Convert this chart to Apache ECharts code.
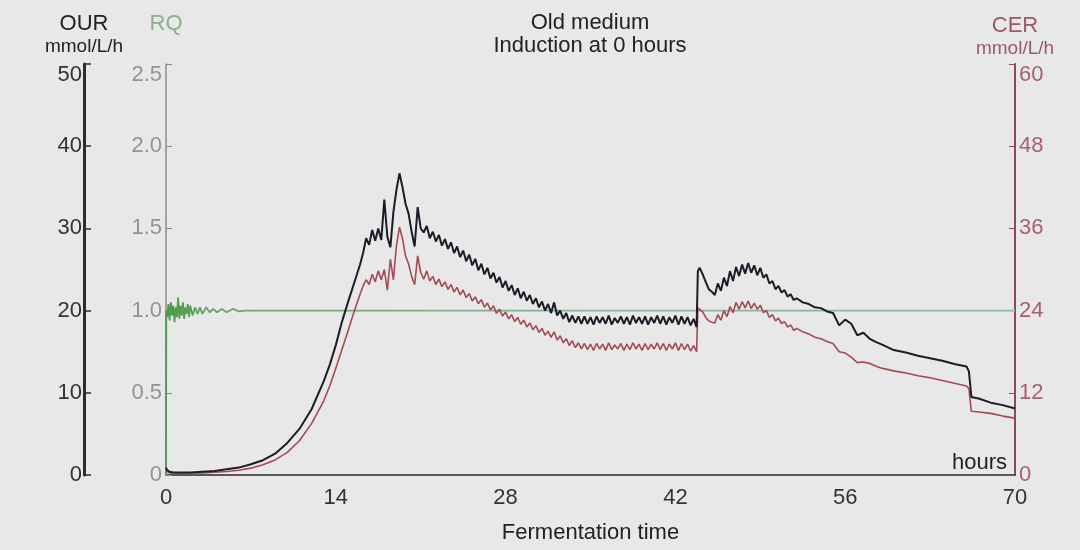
<!DOCTYPE html>
<html><head><meta charset="utf-8">
<script src="https://cdn.jsdelivr.net/npm/echarts@6/dist/echarts.min.js"></script>
<style>html,body{margin:0;padding:0;background:#e8e8e8}#c{width:1080px;height:550px}</style>
</head><body><div id="c"></div>
<script>
// ---- data (hours, OUR mmol/L/h, CER mmol/L/h, RQ) ----
const hoursRise = [0, 0.1, 0.3, 0.6, 1, 2, 3, 4, 5, 6, 7, 8, 9, 10, 11, 12, 13, 13.5, 14, 14.5, 15, 15.5, 16];
const ourRise   = [0.9, 0.6, 0.4, 0.3, 0.3, 0.3, 0.4, 0.5, 0.7, 0.9, 1.3, 1.8, 2.6, 3.9, 5.6, 8.0, 11.4, 13.4, 15.8, 18.6, 21.0, 23.3, 25.6];
const cerRise   = [0.6, 0.4, 0.3, 0.3, 0.3, 0.3, 0.3, 0.4, 0.5, 0.7, 1.0, 1.5, 2.2, 3.3, 5.0, 7.5, 10.8, 13.0, 15.6, 18.3, 21.0, 23.8, 26.4];

const hoursPeak = [16.25,16.5,16.75,17, 17.25,17.5,17.75,18, 18.25,18.5,18.75,19, 19.25,19.5,19.75,20,
  20.25,20.5,20.75,21, 21.25,21.5,21.75,22, 22.25,22.5,22.75,23, 23.25,23.5,23.75,24,
  24.25,24.5,24.75,25, 25.25,25.5,25.75,26, 26.25,26.5,26.75,27, 27.25,27.5,27.75,28,
  28.25,28.5,28.75,29, 29.25,29.5,29.75,30, 30.25,30.5,30.75,31, 31.25,31.5,31.75,32,
  32.25,32.5,32.75,33, 33.25,33.5,33.75];
const ourPeak = [27.0,28.8,28.0,29.8, 28.5,30.0,28.6,33.5, 29.0,27.7,32.0,34.7, 36.7,35.0,33.0,31.8,
  29.6,27.8,32.6,30.0, 29.5,30.3,28.8,29.6, 28.4,29.2,27.9,28.7, 27.5,28.3,27.0,27.8,
  26.5,27.3,26.0,26.8, 25.5,26.3,24.9,25.7, 24.4,25.2,23.9,24.6, 23.4,24.1,22.8,23.6,
  22.4,23.1,21.9,22.7, 21.5,22.3,21.2,21.9, 20.8,21.5,20.4,21.1, 20.0,20.8,19.7,21.0,
  19.4,20.0,19.0,19.7, 18.6,19.4,18.5];
const cerPeak = [27.6,28.5,27.8,29.3, 28.2,29.8,28.5,30.0, 27.0,31.5,28.5,33.5, 36.2,34.5,32.0,30.8,
  29.0,27.8,32.0,29.6, 28.6,29.8,28.3,29.0, 27.8,28.6,27.5,28.2, 27.1,27.8,26.7,27.4,
  26.3,27.0,25.9,26.5, 25.4,26.0,25.0,25.6, 24.5,25.1,24.1,24.7, 23.6,24.2,23.2,23.8,
  22.8,23.4,22.4,23.0, 22.0,22.6,21.6,22.2, 21.2,21.8,20.8,21.4, 20.4,21.0,20.1,20.9,
  19.7,20.3,19.3,19.9, 18.9,19.6,18.6];

const hoursPlateau = [34,34.25,34.5,34.75, 35,35.25,35.5,35.75, 36,36.25,36.5,36.75, 37,37.25,37.5,37.75,
  38,38.25,38.5,38.75, 39,39.25,39.5,39.75, 40,40.25,40.5,40.75, 41,41.25,41.5,41.75,
  42,42.25,42.5,42.75, 43,43.25,43.5,43.75];
const ourPlateau = [19.3,18.4,19.3,18.4, 19.2,18.3,19.3,18.5, 19.2,18.4,19.4,18.3, 19.1,18.5,19.3,18.4,
  19.2,18.3,19.4,18.5, 19.2,18.4,19.3,18.3, 19.2,18.5,19.4,18.4, 19.3,18.3,19.2,18.5,
  19.4,18.3,19.3,18.4, 19.2,18.2,19.0,18.0];
const cerPlateau = [19.3,18.4,19.2,18.3, 19.1,18.2,19.2,18.4, 19.1,18.2,19.3,18.3, 19.0,18.4,19.2,18.2,
  19.1,18.3,19.3,18.4, 19.1,18.2,19.2,18.3, 19.1,18.4,19.3,18.3, 19.2,18.2,19.1,18.4,
  19.3,18.2,19.2,18.3, 19.1,18.1,18.9,18.0];

const hoursHump = [43.85, 44,44.25,44.5,44.75, 45,45.25,45.5,45.75, 46,46.25,46.5,46.75, 47,47.25,47.5,47.75,
  48,48.25,48.5,48.75, 49,49.25,49.5,49.75, 50,50.25,50.5,50.75, 51,51.25,51.5,51.75, 52];
const ourHump = [24.8, 25.2,24.4,23.5,22.6, 22.3,21.9,23.3,22.4, 24.0,23.0,24.8,23.6, 25.3,24.2,25.6,24.5,
  25.8,24.6,25.5,24.3, 25.2,24.0,24.4,23.3, 23.6,22.6,23.0,22.2, 22.5,21.7,22.0,21.3, 21.5];
const cerHump = [24.4, 24.6,23.8,23.0,22.5, 22.3,22.2,23.4,22.6, 24.0,23.1,24.6,23.7, 25.2,24.2,25.3,24.4,
  25.4,24.3,25.1,24.2, 24.8,23.7,24.0,23.0, 23.4,22.5,22.9,22.1, 22.4,21.6,21.9,21.1, 21.4];

const hoursTail = [52.5,53,53.5,54,54.5,55,55.5,56,56.5,57,57.5,58,58.5,59,60,61,62,63,64,65,66,66.2,66.4,67,68,69,70];
const ourTail = [21.0,20.8,20.4,20.3,19.9,19.7,18.2,18.9,18.4,17.0,17.3,16.6,16.2,15.9,15.2,14.9,14.5,14.2,13.9,13.5,13.2,12.6,9.5,9.3,8.8,8.5,8.1];
const cerTail = [20.9,20.6,20.1,19.9,19.5,19.2,18.0,17.8,17.2,16.4,16.5,16.3,15.9,15.6,15.2,14.9,14.5,14.2,13.8,13.4,13.0,12.6,9.3,9.2,9.0,8.6,8.3];

const rqHours = [0,0.02,0.1,0.2,0.3,0.4,0.5,0.6,0.7,0.8,0.9,1.0,1.1,1.2,1.3,1.4,1.5,1.6,1.7,1.8,1.9,2.0,2.2,2.4,2.6,2.8,3.0,3.3,3.6,3.9,4.2,4.6,5.0,5.5,6.0,6.5,70];
const rq      = [0,1.0,0.96,1.04,0.94,1.05,0.97,1.03,0.93,1.02,0.96,1.08,0.95,1.03,0.97,1.05,0.95,1.02,0.98,1.04,0.96,1.03,0.97,1.02,0.98,1.02,0.98,1.02,0.99,1.01,0.99,1.01,0.99,1.01,0.995,1.0,1.0];

const xTicks = [0, 14, 28, 42, 56, 70];

// ---- assemble ----
const hours = [].concat(hoursRise, hoursPeak, hoursPlateau, hoursHump, hoursTail);
const our = [].concat(ourRise, ourPeak, ourPlateau, ourHump, ourTail);
const cer = [].concat(cerRise, cerPeak, cerPlateau, cerHump, cerTail);

const FONT = 'Liberation Sans, Arial, sans-serif';
const chart = echarts.init(document.getElementById('c'), null, {renderer: 'canvas'});

function nameRich(color) {
  return {
    a: {fontSize: 22, fontFamily: FONT, color: color, lineHeight: 23},
    b: {fontSize: 19, fontFamily: FONT, color: color, lineHeight: 23}
  };
}

chart.setOption({
  backgroundColor: '#e8e8e8',
  animation: false,
  grid: {left: 166, right: 65, top: 64, bottom: 75, containLabel: false, outerBoundsMode: 'none'},
  graphic: [
    {type: 'text', x: 590, y: 11, style: {text: 'Old medium\nInduction at 0 hours', align: 'center', verticalAlign: 'top',
      fontSize: 22, lineHeight: 23, fontFamily: FONT, fill: '#222'}},
    {type: 'text', x: 1007, y: 463, style: {text: 'hours', align: 'right', verticalAlign: 'middle',
      fontSize: 22, fontFamily: FONT, fill: '#222'}}
  ],
  xAxis: {
    type: 'value', min: xTicks[0], max: xTicks[xTicks.length - 1], interval: 14,
    name: 'Fermentation time', nameLocation: 'middle', nameGap: 47,
    nameTextStyle: {fontSize: 22, fontFamily: FONT, color: '#222'},
    axisLine: {show: true, onZero: false, lineStyle: {color: '#2a2a2a', width: 1.5}},
    axisTick: {show: false},
    splitLine: {show: false},
    axisLabel: {margin: 12, fontSize: 22, fontFamily: FONT, color: '#333'}
  },
  yAxis: [
    {
      type: 'value', position: 'left', offset: 82, min: 0, max: 50, interval: 10,
      name: '{a|OUR}\n{b|mmol/L/h}', nameLocation: 'end', nameGap: 6,
      nameTextStyle: {align: 'center', verticalAlign: 'bottom', rich: nameRich('#222')},
      axisLine: {show: true, onZero: false, lineStyle: {color: '#2a2a38', width: 3}},
      axisTick: {show: true, inside: true, length: 7, lineStyle: {color: '#2a2a38', width: 1.5}},
      splitLine: {show: false},
      axisLabel: {margin: 2, fontSize: 22, fontFamily: FONT, color: '#333', verticalAlignMaxLabel: 'top'}
    },
    {
      type: 'value', position: 'left', offset: 0, min: 0, max: 2.5, interval: 0.5,
      name: 'RQ', nameLocation: 'end', nameGap: 29,
      nameTextStyle: {align: 'center', verticalAlign: 'bottom', fontSize: 22, fontFamily: FONT, color: '#8fae90'},
      axisLine: {show: true, onZero: false, lineStyle: {color: '#8c8c8c', width: 1.5}},
      axisTick: {show: true, inside: true, length: 6, lineStyle: {color: '#8c8c8c'}},
      splitLine: {show: false},
      axisLabel: {margin: 4, fontSize: 22, fontFamily: FONT, color: '#8e978e', verticalAlignMaxLabel: 'top',
        formatter: v => (v === 0 ? '0' : v.toFixed(1))}
    },
    {
      type: 'value', position: 'right', offset: 0, min: 0, max: 60, interval: 12,
      name: '{a|CER}\n{b|mmol/L/h}', nameLocation: 'end', nameGap: 4,
      nameTextStyle: {align: 'center', verticalAlign: 'bottom', rich: nameRich('#9c5a64')},
      axisLine: {show: true, onZero: false, lineStyle: {color: '#8d4a55', width: 2}},
      axisTick: {show: true, inside: true, length: 6, lineStyle: {color: '#8d4a55'}},
      splitLine: {show: false},
      axisLabel: {margin: 4, fontSize: 22, fontFamily: FONT, color: '#a8616c', verticalAlignMaxLabel: 'top'}
    }
  ],
  series: [
    {
      name: 'RQ', type: 'line', yAxisIndex: 1, showSymbol: false, symbol: 'none', z: 1,
      data: rqHours.map((h, i) => [h, rq[i]]),
      lineStyle: {width: 1.8, color: new echarts.graphic.LinearGradient(0, 0, 1, 0, [
        {offset: 0, color: '#4c9a4a'}, {offset: 0.08, color: '#6aa86c'}, {offset: 0.5, color: '#86b49c'}, {offset: 1, color: '#8ab8ac'}])}
    },
    {
      name: 'CER', type: 'line', yAxisIndex: 2, showSymbol: false, symbol: 'none', z: 2,
      data: hours.map((h, i) => [h, cer[i]]),
      lineStyle: {width: 1.6, color: '#a34a52'}
    },
    {
      name: 'OUR', type: 'line', yAxisIndex: 0, showSymbol: false, symbol: 'none', z: 3,
      data: hours.map((h, i) => [h, our[i]]),
      lineStyle: {width: 2, color: '#1c1c28'}
    }
  ]
});
</script>
</body></html>
